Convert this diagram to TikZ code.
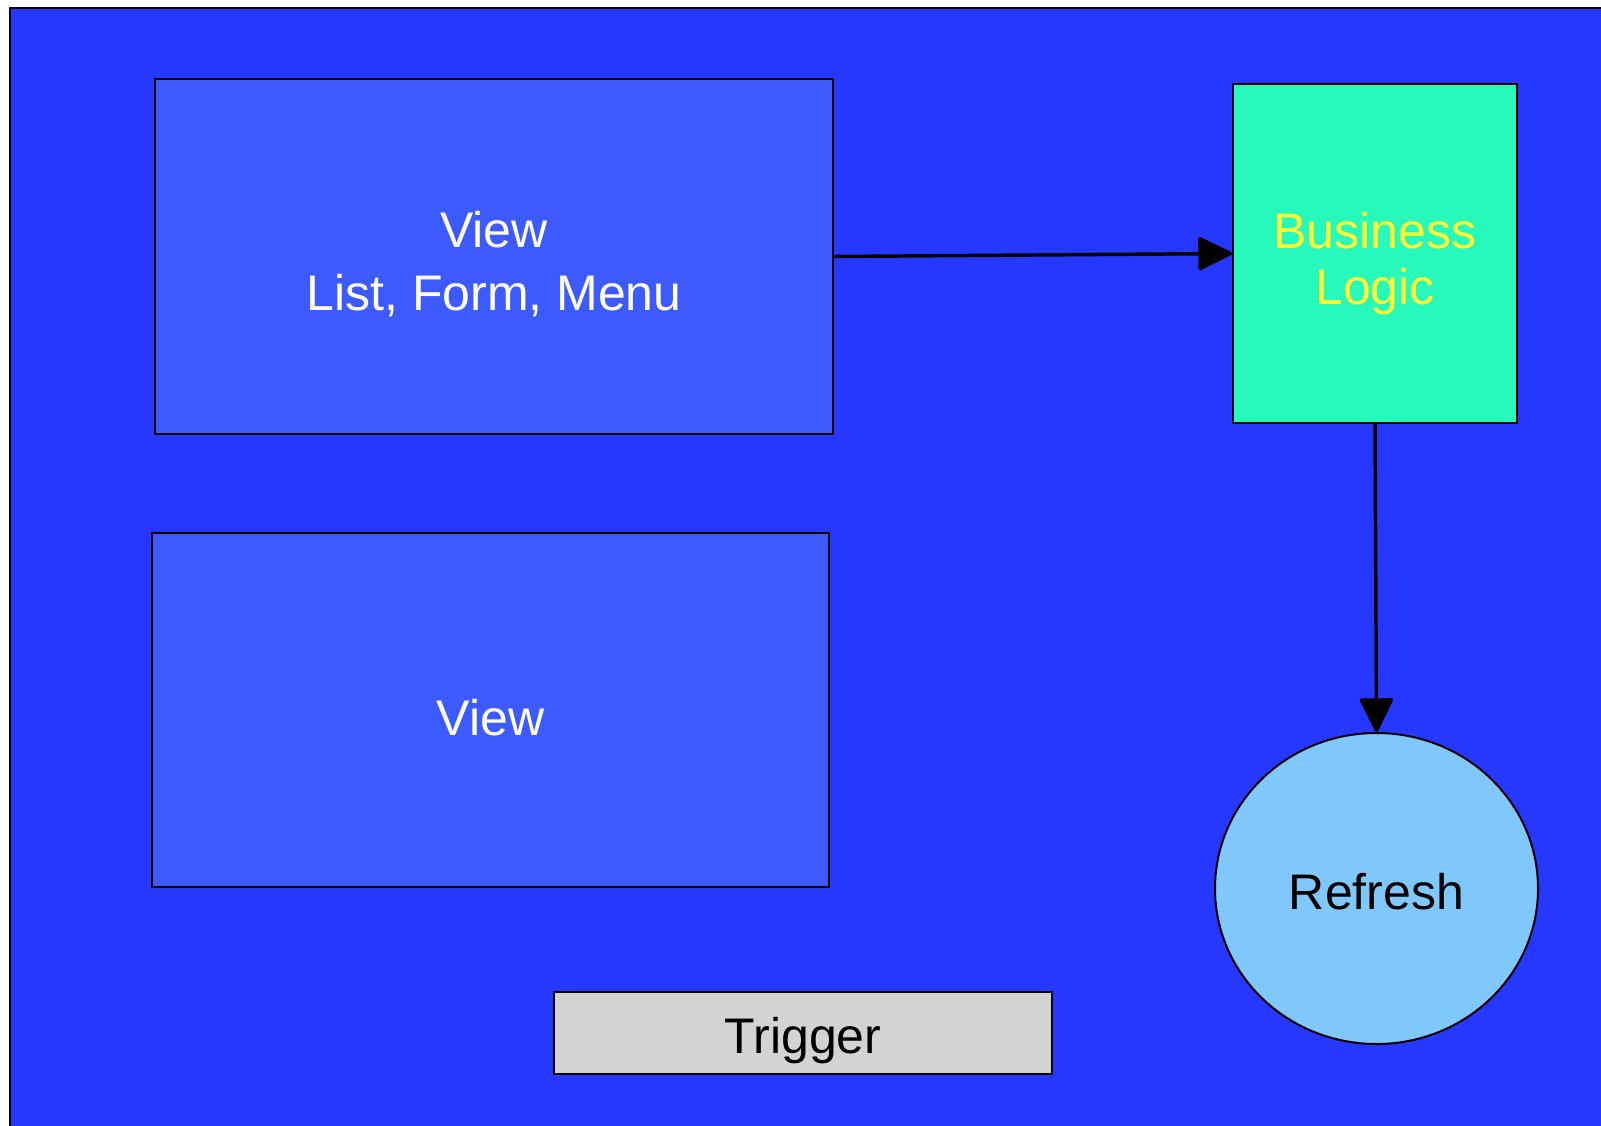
\documentclass[tikz,border=0pt]{standalone}
\usepackage{fontspec}
\setmainfont{Liberation Sans}
\usepackage{xcolor}
\usepackage{tikz}
\usetikzlibrary{arrows.meta,shapes.geometric}

\definecolor{bgblue}{RGB}{38,56,255}
\definecolor{viewblue}{RGB}{61,90,255}
\definecolor{logicgreen}{RGB}{38,249,187}
\definecolor{refreshblue}{RGB}{128,200,252}
\definecolor{triggergrey}{RGB}{211,211,211}
\definecolor{logicyellow}{RGB}{255,255,51}

% lower a label without changing the size of its box
\newcommand{\lowerlabel}[2]{\raisebox{-#1}[\height][\depth]{#2}}

\tikzset{
  box/.style={draw=black, line width=1.5pt, rectangle, inner sep=0pt, align=center,
    font=\fontsize{37.5}{47}\selectfont},
  flow/.style={line width=2.6pt, line join=round,
    -{Triangle[length=27pt,width=26pt,round]}},
}

\begin{document}
\begin{tikzpicture}[x=0.75pt,y=0.75pt,yscale=-1,xscale=1]
\useasboundingbox (0,0) rectangle (1601,1125);
\clip (0,0) rectangle (1601,1125);

%Shape: Rectangle [background]
\draw [line width=2.2pt, fill=bgblue] (10,8) rectangle (1650,1170);

%Shape: Rectangle [view list]
\node [box, fill=viewblue, text=white, minimum width=508.5pt, minimum height=266.25pt] (viewlist) at (494,256.5) {\lowerlabel{7.5pt}{\begin{tabular}{@{}c@{}}View\\List, Form, Menu\end{tabular}}};
%Shape: Rectangle [view]
\node [box, fill=viewblue, text=white, minimum width=507.75pt, minimum height=265.5pt] (view) at (490.5,710) {\lowerlabel{5.5pt}{View}};
%Shape: Rectangle [business logic]
\node [box, fill=logicgreen, text=logicyellow, minimum width=213pt, minimum height=254.25pt] (logic) at (1375,253.5) {\lowerlabel{7.5pt}{\begin{tabular}{@{}c@{}}Business\\[-5pt]Logic\end{tabular}}};
%Shape: Ellipse [refresh]
\node [box, ellipse, fill=refreshblue, minimum width=242.25pt, minimum height=233.25pt] (refresh) at (1376.5,888.5) {\lowerlabel{2.5pt}{Refresh}};
%Shape: Rectangle [trigger]
\node [box, fill=triggergrey, minimum width=373.5pt, minimum height=61.5pt] (trigger) at (803,1033) {\lowerlabel{5.5pt}{Trigger}};

%Straight Lines
\draw [flow] (viewlist.east) -- (logic.west);
\draw [flow] (logic.south) -- (refresh.north);

\end{tikzpicture}
\end{document}
